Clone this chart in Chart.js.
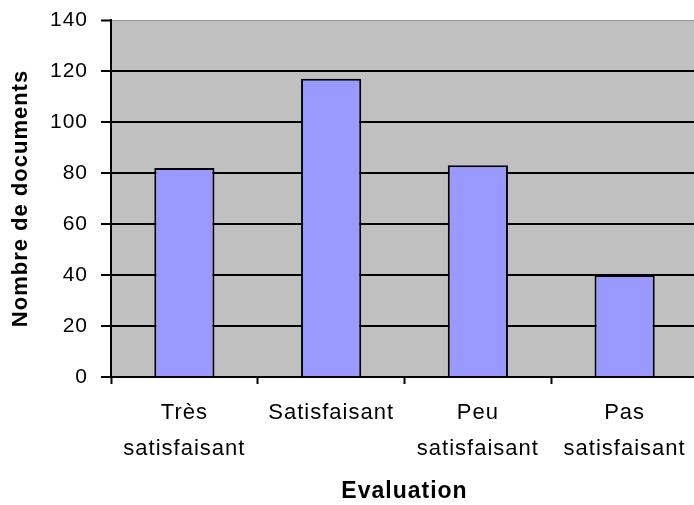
<!DOCTYPE html>
<html>
<head>
<meta charset="utf-8">
<script src="https://cdn.jsdelivr.net/npm/chart.js@4/dist/chart.umd.min.js"></script>
<style>
  html, body { margin: 0; padding: 0; overflow: hidden; background: #ffffff; }
  #wrap { width: 698px; height: 505px; }
</style>
</head>
<body>
<div id="wrap"><canvas id="c" width="698" height="505"></canvas></div>
<script>
// Categories (two-line labels) and document counts per evaluation
const categories = [
  ['Très', 'satisfaisant'],
  'Satisfaisant',
  ['Peu', 'satisfaisant'],
  ['Pas', 'satisfaisant']
];
const documentCounts = [82, 117, 83, 40];
const yTicks = [0, 20, 40, 60, 80, 100, 120, 140];

const FONT = '"Liberation Sans", Arial, sans-serif';

// Slightly wider glyph spacing for all chart text
const spacingPlugin = {
  id: 'spacing',
  beforeLayout(chart) { chart.ctx.letterSpacing = '1px'; },
  beforeDraw(chart) { chart.ctx.letterSpacing = '1px'; }
};

new Chart(document.getElementById('c'), {
  type: 'bar',
  data: {
    labels: categories,
    datasets: [{
      data: documentCounts,
      backgroundColor: '#9999ff',
      borderColor: '#000000',
      borderWidth: 2,
      borderSkipped: 'bottom',
      categoryPercentage: 1,
      barPercentage: 0.41
    }]
  },
  options: {
    responsive: false,
    devicePixelRatio: 1,
    animation: false,
    events: [],
    layout: { padding: { top: 20, right: 0, bottom: 0, left: 0 } },
    plugins: {
      legend: { display: false },
      tooltip: { enabled: false }
    },
    scales: {
      x: {
        grid: {
          display: true,
          drawOnChartArea: false,
          drawTicks: true,
          tickLength: 7,
          tickColor: '#000000',
          tickWidth: 2
        },
        border: { display: true, color: '#000000', width: 2 },
        ticks: {
          color: '#000000',
          font: { family: FONT, size: 22, lineHeight: 1.64 },
          padding: 11,
          maxRotation: 0,
          autoSkip: false
        },
        title: {
          display: true,
          text: 'Evaluation',
          color: '#000000',
          font: { family: FONT, size: 23, weight: 'bold' },
          padding: { top: 0, bottom: 0 }
        },
        afterFit(scale) {
          scale.height = 128;
          scale.paddingLeft = 0;
          scale.paddingRight = 0;
        }
      },
      y: {
        min: 0,
        max: 140,
        afterBuildTicks(scale) { scale.ticks = yTicks.map(v => ({ value: v })); },
        grid: {
          color: ctx => (ctx.tick && ctx.tick.value === 140) ? '#9a9a9a' : '#000000',
          lineWidth: ctx => (ctx.tick && ctx.tick.value === 140) ? 1 : 2,
          drawTicks: true,
          tickLength: 10,
          tickColor: '#000000',
          tickWidth: 2
        },
        border: { display: true, color: '#000000', width: 2 },
        ticks: {
          color: '#000000',
          font: { family: FONT, size: 21 },
          padding: 13
        },
        title: {
          display: true,
          text: 'Nombre de documents',
          color: '#000000',
          font: { family: FONT, size: 22, weight: 'bold' },
          padding: { top: 8, bottom: 0 }
        },
        afterFit(scale) {
          scale.width = 111;
          scale.paddingTop = 0;
          scale.paddingBottom = 0;
        }
      }
    }
  },
  plugins: [spacingPlugin, {
    id: 'plotBackground',
    beforeDraw(chart) {
      const { ctx, chartArea: a } = chart;
      ctx.save();
      ctx.fillStyle = '#c0c0c0';
      ctx.fillRect(a.left, a.top, a.right - a.left, a.bottom - a.top);
      ctx.restore();
    }
  }]
});
</script>
</body>
</html>
